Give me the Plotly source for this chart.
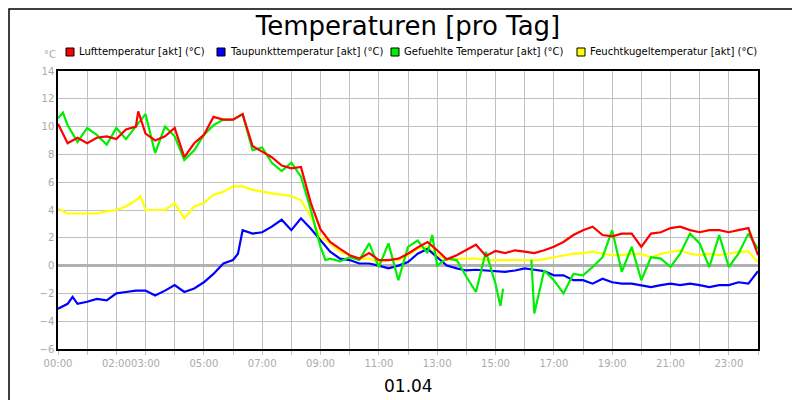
import plotly.graph_objects as go

red_h = [0,0.33,0.67,1.0,1.33,1.67,2.0,2.33,2.67,2.75,3.0,3.33,3.67,4.0,4.33,4.67,5.0,5.33,5.67,6.0,6.33,6.67,7.0,7.33,7.67,8.0,8.33,8.67,9.0,9.33,9.67,10.0,10.33,10.67,11.0,11.33,11.67,12.0,12.33,12.67,13.0,13.33,13.67,14.0,14.33,14.67,15.0,15.33,15.67,16.0,16.33,16.67,17.0,17.33,17.67,18.0,18.33,18.67,19.0,19.33,19.67,20.0,20.33,20.67,21.0,21.33,21.67,22.0,22.33,22.67,23.0,23.33,23.67,24.0]
red_v = [10.2,8.8,9.2,8.8,9.2,9.3,9.1,9.8,10.0,11.1,9.5,9.0,9.3,9.9,7.8,8.8,9.4,10.7,10.5,10.5,10.9,8.6,8.2,7.8,7.2,7.0,7.1,4.5,2.6,1.7,1.2,0.75,0.5,0.9,0.4,0.4,0.5,0.85,1.3,1.7,1.1,0.45,0.75,1.15,1.5,0.7,1.05,0.9,1.1,1.0,0.9,1.1,1.35,1.7,2.2,2.55,2.8,2.2,2.1,2.3,2.3,1.35,2.3,2.4,2.7,2.8,2.55,2.4,2.55,2.55,2.4,2.55,2.7,0.75]

blue_h = [0,0.33,0.5,0.67,1.0,1.33,1.67,2.0,2.33,2.67,3.0,3.33,3.67,4.0,4.33,4.67,5.0,5.33,5.67,6.0,6.17,6.33,6.67,7.0,7.33,7.67,8.0,8.33,8.67,9.0,9.33,9.67,10.0,10.33,10.67,11.0,11.33,11.67,12.0,12.33,12.67,13.0,13.33,13.67,14.0,14.33,14.67,15.0,15.33,15.67,16.0,16.33,16.67,17.0,17.33,17.67,18.0,18.33,18.67,19.0,19.33,19.67,20.0,20.33,20.67,21.0,21.33,21.67,22.0,22.33,22.67,23.0,23.33,23.67,24.0]
blue_v = [-3.1,-2.75,-2.25,-2.75,-2.6,-2.4,-2.5,-2.0,-1.9,-1.8,-1.8,-2.15,-1.8,-1.4,-1.9,-1.65,-1.2,-0.6,0.15,0.4,0.85,2.55,2.3,2.4,2.8,3.3,2.55,3.4,2.65,1.8,1.0,0.5,0.4,0.15,0.15,0.0,-0.2,0.0,0.25,0.85,1.2,0.6,0.0,-0.2,-0.35,-0.3,-0.35,-0.4,-0.45,-0.35,-0.2,-0.3,-0.4,-0.7,-0.7,-1.05,-1.05,-1.3,-0.95,-1.2,-1.3,-1.3,-1.4,-1.55,-1.4,-1.3,-1.4,-1.3,-1.4,-1.55,-1.4,-1.4,-1.2,-1.3,-0.4]

green_h = [0,0.17,0.33,0.67,1.0,1.33,1.67,2.0,2.33,2.67,3.0,3.33,3.67,4.0,4.33,4.67,5.0,5.33,5.67,6.0,6.33,6.67,7.0,7.33,7.67,8.0,8.33,8.67,9.0,9.17,9.33,9.67,10.0,10.33,10.67,11.0,11.33,11.67,12.0,12.33,12.67,12.83,13.0,13.33,13.67,14.0,14.33,14.67,15.0,15.17,15.26,15.8,16.23,16.33,16.67,17.0,17.33,17.67,18.0,18.33,18.67,19.0,19.33,19.67,20.0,20.33,20.67,21.0,21.33,21.67,22.0,22.33,22.67,23.0,23.33,23.67,24.0]
green_v = [10.6,11.0,10.1,8.9,9.9,9.4,8.7,9.9,9.1,10.0,10.9,8.1,10.0,9.3,7.6,8.3,9.4,10.1,10.5,10.5,10.9,8.3,8.5,7.4,6.8,7.4,6.4,4.0,1.35,0.4,0.5,0.3,0.6,0.4,1.6,-0.1,1.6,-1.05,1.35,1.8,0.9,2.2,0.0,0.5,0.4,-0.8,-1.9,1.0,-1.3,-2.9,-1.65,None,0.4,-3.45,-0.35,-1.05,-2.0,-0.6,-0.7,-0.1,0.6,2.55,-0.45,1.35,-1.05,0.6,0.5,-0.1,0.85,2.3,1.6,-0.1,2.2,-0.1,0.85,2.3,1.2]

yellow_h = [0,0.33,0.67,1.0,1.33,1.67,2.0,2.33,2.67,2.83,3.0,3.33,3.67,4.0,4.33,4.67,5.0,5.33,5.67,6.0,6.33,6.67,7.0,7.33,7.67,8.0,8.33,8.67,9.0,9.33,9.67,10.0,10.33,10.67,11.0,11.33,11.67,12.0,12.33,12.67,13.0,13.33,13.67,14.0,14.33,14.67,15.0,15.33,16.0,16.5,17.0,17.33,17.67,18.0,18.33,18.67,19.0,19.33,19.67,20.0,20.33,20.67,21.0,21.33,21.67,22.0,22.33,22.67,23.0,23.33,23.67,24.0]
yellow_v = [4.1,3.75,3.75,3.75,3.75,3.9,4.0,4.25,4.7,5.0,4.0,4.0,4.0,4.5,3.4,4.25,4.5,5.1,5.3,5.7,5.7,5.45,5.3,5.2,5.1,5.0,4.7,3.5,2.05,1.6,1.0,0.75,0.5,0.5,0.25,0.4,0.4,0.75,1.2,1.35,0.75,0.45,0.5,0.5,0.5,0.4,0.4,0.4,0.4,0.4,0.6,0.75,0.85,0.9,1.0,0.85,0.75,0.75,0.85,0.85,0.6,0.85,1.0,1.1,0.85,0.75,0.85,0.75,0.85,1.0,1.0,0.25]

names = ["Lufttemperatur [akt] (°C)", "Taupunkttemperatur [akt] (°C)",
         "Gefuehlte Temperatur [akt] (°C)", "Feuchtkugeltemperatur [akt] (°C)"]
colors = ["#ff0000", "#0000ff", "#00ee00", "#ffff00"]
series = [(red_h, red_v), (blue_h, blue_v), (green_h, green_v), (yellow_h, yellow_v)]
draw_order = [3, 1, 2, 0]
legend_px = [62, 213, 387, 573]

tick_labels = {0: "00:00", 2: "02:00", 3: "03:00", 5: "05:00", 7: "07:00", 9: "09:00",
               11: "11:00", 13: "13:00", 15: "15:00", 17: "17:00", 19: "19:00",
               21: "21:00", 23: "23:00"}

W, H, L, R, T, B = 800, 400, 50, 50, 63, 59
pw, ph = W - L - R, H - T - B

def px(x):
    return (x - L) / pw

def py(y):
    return (H - B - y) / ph

fig = go.Figure()
for i in draw_order:
    h, v = series[i]
    fig.add_trace(go.Scatter(x=h, y=v, mode="lines", line=dict(color=colors[i], width=2.2),
                             showlegend=False, connectgaps=False, hoverinfo="skip"))

annotations = [
    dict(text="°C", x=px(42), y=py(47), xref="paper", yref="paper", showarrow=False,
         font=dict(size=10, color="#aaaaaa"), xanchor="center", yanchor="middle"),
    dict(text="01.04", x=0.5, y=py(378), xref="paper", yref="paper", showarrow=False,
         font=dict(size=17, color="black"), xanchor="center", yanchor="middle"),
]
shapes = [dict(type="rect", xref="paper", yref="paper",
               x0=px(1), x1=px(799), y0=py(399), y1=py(1),
               line=dict(color="black", width=1.5), fillcolor="rgba(0,0,0,0)", layer="above")]
for i in range(4):
    xs = legend_px[i]
    shapes.append(dict(type="rect", xref="paper", yref="paper",
                       x0=px(xs - 4), x1=px(xs + 4), y0=py(48), y1=py(40),
                       line=dict(color="black", width=1), fillcolor=colors[i]))
    annotations.append(dict(text=names[i], x=px(xs + 7), y=py(44), xref="paper", yref="paper",
                            showarrow=False, xanchor="left", yanchor="middle",
                            font=dict(size=10, color="black")))

fig.update_layout(
    width=W, height=H, paper_bgcolor="white", plot_bgcolor="white", showlegend=False,
    margin=dict(l=L, r=R, t=T, b=B, autoexpand=False),
    font=dict(family="DejaVu Sans", color="black"),
    title=dict(text="Temperaturen [pro Tag]", x=0.5, xanchor="center", y=1 - 18 / H, yanchor="middle",
               font=dict(size=26, family="DejaVu Sans")),
    xaxis=dict(range=[0, 24], tickmode="array", tickvals=list(range(25)),
               ticktext=[tick_labels.get(k, "") for k in range(25)], tickangle=0, automargin=False,
               showgrid=True, gridcolor="#c0c0c0", gridwidth=1, zeroline=False,
               showline=True, linecolor="black", linewidth=1.5, mirror=True,
               ticks="outside", ticklen=4, tickcolor="#c0c0c0",
               tickfont=dict(size=10, color="#aaaaaa")),
    yaxis=dict(range=[-6, 14], dtick=2, showgrid=True, gridcolor="#c0c0c0", gridwidth=1,
               automargin=False,
               zeroline=True, zerolinecolor="#b0b0b0", zerolinewidth=2.5,
               showline=True, linecolor="black", linewidth=1.5, mirror=True,
               ticks="", tickfont=dict(size=10, color="#aaaaaa")),
    annotations=annotations,
    shapes=shapes,
)
fig.write_html("out.html")
